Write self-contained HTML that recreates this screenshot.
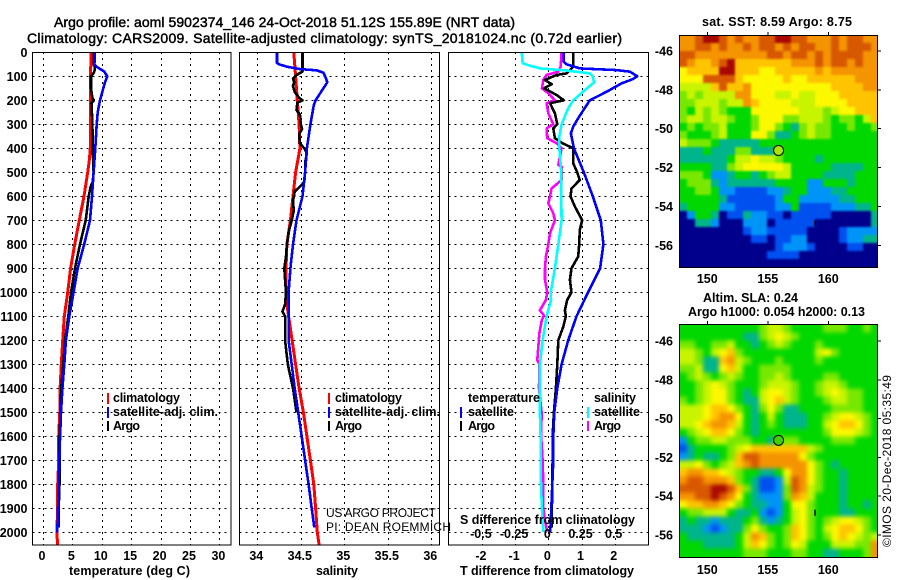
<!DOCTYPE html>
<html>
<head>
<meta charset="utf-8">
<style>
html,body{margin:0;padding:0;background:#fff;width:900px;height:580px;overflow:hidden}
svg{display:block}
text{font-family:"Liberation Sans",sans-serif;fill:#000}
.b{font-weight:bold;font-size:12.5px}
.t{font-size:14px;stroke:#000;stroke-width:.45px}
.r{font-size:12px}
</style>
</head>
<body>
<svg id="chart" xmlns="http://www.w3.org/2000/svg" width="900" height="580" viewBox="0 0 900 580">
<defs>
<clipPath id="clip-t"><rect x="33" y="52" width="198" height="493"/></clipPath>
<clipPath id="clip-s"><rect x="240" y="52" width="199" height="493"/></clipPath>
<clipPath id="clip-d"><rect x="449" y="52" width="199" height="493"/></clipPath>
<clipPath id="clip-m1"><rect x="679" y="35" width="198" height="232"/></clipPath>
<clipPath id="clip-m2"><rect x="679" y="324" width="198" height="233"/></clipPath>
<filter id="soft1" x="-5%" y="-5%" width="110%" height="110%" color-interpolation-filters="sRGB"><feGaussianBlur stdDeviation="1"/></filter>
<filter id="soft2" x="-5%" y="-5%" width="110%" height="110%" color-interpolation-filters="sRGB"><feGaussianBlur stdDeviation="2.2"/></filter>
</defs>
<text class="t" x="54" y="27" textLength="461" lengthAdjust="spacing">Argo profile: aoml 5902374_146 24-Oct-2018 51.12S 155.89E (NRT data)</text>
<text class="t" x="27" y="43" textLength="595" lengthAdjust="spacing">Climatology: CARS2009. Satellite-adjusted climatology: synTS_20181024.nc (0.72d earlier)</text>

<g clip-path="url(#clip-m1)"><g id="heat1" filter="url(#soft1)"></g></g>
<g clip-path="url(#clip-m2)"><g id="heat2" filter="url(#soft2)"></g></g>
<g id="grids"></g>
<g id="series"></g>
<g id="axes"></g>

<g>
<rect x="107" y="393" width="2" height="11" fill="#f00"/>
<text class="b" x="113" y="402" textLength="67">climatology</text>
<rect x="107" y="407" width="2" height="11" fill="#00f"/>
<text class="b" x="113" y="416" textLength="105">satellite-adj. clim.</text>
<rect x="107" y="421" width="2" height="10" fill="#000"/>
<text class="b" x="113" y="430" textLength="27">Argo</text>
</g>
<g>
<rect x="328" y="393" width="2" height="11" fill="#f00"/>
<text class="b" x="335" y="402" textLength="67">climatology</text>
<rect x="328" y="407" width="2" height="11" fill="#00f"/>
<text class="b" x="335" y="416" textLength="105">satellite-adj. clim.</text>
<rect x="328" y="421" width="2" height="10" fill="#000"/>
<text class="b" x="335" y="430" textLength="27">Argo</text>
</g>
<g>
<text class="b" x="468" y="402" textLength="72">temperature</text>
<rect x="460" y="407" width="2" height="11" fill="#00f"/>
<text class="b" x="468" y="416" textLength="46">satellite</text>
<rect x="460" y="421" width="2" height="10" fill="#000"/>
<text class="b" x="468" y="430" textLength="27">Argo</text>
<text class="b" x="594" y="402" textLength="42">salinity</text>
<rect x="587" y="407" width="2" height="11" fill="#0ff"/>
<text class="b" x="594" y="416" textLength="46">satellite</text>
<rect x="587" y="421" width="2" height="10" fill="#f0f"/>
<text class="b" x="594" y="430" textLength="27">Argo</text>
</g>

<text class="r" x="326" y="517" textLength="110">US ARGO PROJECT</text>
<text class="r" x="326" y="531" textLength="125">PI: DEAN ROEMMICH</text>
<text class="b" x="460" y="524" textLength="175">S difference from climatology</text>

<text class="b" x="69" y="575" textLength="121">temperature (deg C)</text>
<text class="b" x="316" y="575" textLength="42">salinity</text>
<text class="b" x="460" y="575" textLength="174">T difference from climatology</text>

<text class="b" x="702" y="26" textLength="150">sat. SST: 8.59 Argo: 8.75</text>
<text class="b" x="703" y="302" textLength="95">Altim. SLA: 0.24</text>
<text class="b" x="688" y="316" textLength="177">Argo h1000: 0.054 h2000: 0.13</text>
<text class="r" transform="translate(891,547) rotate(-90)" textLength="172">©IMOS 20-Dec-2018 05:35:49</text>
</svg>

<script>
// ---- Temperature panel data (depth in dbar, value in deg C)
const tempClimDepths = [0,100,300,400,450,500,600,700,800,900,1000,1100,1200,1300,1400,1500,1600,1700,1800,1900,2000,2053];
const tempClim = [8.16,8.1,8.1,8.05,7.88,7.6,6.97,6.18,5.39,4.7,4.2,3.63,3.35,3.12,2.9,2.85,2.67,2.67,2.5,2.45,2.4,2.45];
const tempSatDepths = [0,50,60,80,100,125,150,200,250,300,400,500,600,700,800,900,1000,1100,1200,1300,1400,1500,1600,1700,1800,1900,2000];
const tempSat = [8.84,8.75,9.1,10.4,10.94,10.54,10.26,9.7,9.3,9.13,8.9,8.6,8.33,8,7,5.9,5.2,4.48,3.9,3.63,3.3,3.06,2.9,2.78,2.67,2.55,2.44];
const tempArgoDepths = [0,50,60,75,85,100,150,190,200,210,300,400,500,540,560,600,700,800,900,1000,1100,1200,1300,1400,1500,1600,1800,1900,1980];
const tempArgo = [8.67,8.6,8.8,8.8,8.65,8.16,8.16,8.4,8.65,8.25,8.4,8.45,8.6,8.45,8.1,7.77,7.26,6.3,5.44,4.76,4.3,3.74,3.45,3.1,3,2.8,2.8,2.67,2.67];
// ---- Salinity panel data
const salClimDepths = [0,100,200,300,400,420,500,600,700,800,900,1000,1050,1100,1200,1300,1400,1500,1600,1700,1800,1900,2000,2053];
const salClim = [34.42,34.44,34.46,34.48,34.49,34.48,34.44,34.41,34.38,34.34,34.33,34.33,34.34,34.36,34.4,34.44,34.48,34.53,34.57,34.61,34.65,34.67,34.69,34.71];
const salSatDepths = [0,45,50,60,70,75,85,100,125,150,200,220,300,400,500,600,700,800,900,1000,1100,1200,1300,1400,1500,1600,1700,1800,1900,1980];
const salSat = [34.226,34.227,34.25,34.34,34.49,34.68,34.76,34.78,34.805,34.76,34.67,34.65,34.61,34.57,34.55,34.52,34.45,34.41,34.38,34.36,34.36,34.36,34.395,34.43,34.47,34.51,34.55,34.59,34.625,34.655];
const salArgoDepths = [0,80,95,110,125,140,165,190,200,210,240,260,300,320,340,380,400,420,460,500,540,560,580,620,660,700,750,800,850,900,950,1000,1050,1080,1100,1200,1300,1400,1500];
const salArgo = [34.52,34.52,34.45,34.41,34.425,34.41,34.43,34.48,34.52,34.46,34.45,34.49,34.5,34.515,34.48,34.49,34.54,34.57,34.55,34.55,34.54,34.49,34.43,34.41,34.42,34.395,34.36,34.34,34.33,34.31,34.32,34.33,34.32,34.29,34.32,34.32,34.35,34.41,34.45];
// ---- Difference panel data
const diffTSatDepths = [0,40,50,67,74,81,100,112,130,164,200,268,310,338,400,500,600,700,800,900,1000,1100,1200,1300,1400,1500,1600,1700,1800,1900,1998];
const diffTSat = [0.47,0.47,0.55,0.95,2.06,2.46,2.68,2.54,2.2,1.76,1.25,0.93,0.75,0.68,0.77,1.07,1.34,1.58,1.66,1.56,1.2,0.85,0.6,0.4,0.27,0.18,0.15,0.15,0.12,0.09,0.06];
const diffTArgoDepths = [0,60,74,88,94,115,133,150,178,200,212,254,300,317,358,379,400,462,500,532,567,600,643,700,740,800,851,900,948,1000,1032,1075,1100,1144,1200,1300,1400,1500,1600,1700,1980];
const diffTArgo = [0.75,0.75,0.65,0.55,0.25,-0.1,0.1,-0.13,0.25,0.47,0.05,0.2,0.27,0.15,0.2,0.43,0.75,0.75,0.87,0.95,0.7,0.67,0.8,1.02,0.95,0.93,0.9,0.7,0.65,0.7,0.57,0.5,0.53,0.45,0.3,0.27,0.23,0.17,0.13,0.13,0.1];
const diffSSatDepths = [0,46,56,67,76,88,100,126,157,200,233,300,351,400,500,600,700,800,900,1000,1032,1100,1200,1300,1400,1500,1600,1700,1800,1900,1998];
const diffSSat = [-0.2,-0.193,-0.138,-0.063,0.138,0.314,0.334,0.344,0.276,0.188,0.15,0.1,0.083,0.083,0.098,0.098,0.1,0.075,0.05,0.018,0.02,-0.013,-0.043,-0.063,-0.063,-0.063,-0.058,-0.058,-0.055,-0.048,-0.038];
const diffSArgoDepths = [0,60,81,94,115,150,171,200,212,254,300,317,358,379,400,469,476,532,567,600,629,671,700,754,800,851,900,948,1000,1032,1075,1096,1118,1172,1283,1300,1400,1505,1590,1700,1800,1900,1950,1998];
const diffSArgo = [0.1,0.093,0.075,-0.013,-0.038,-0.048,0,0.05,-0.013,0,0.038,-0.013,-0.008,0.063,0.1,0.075,0.1,0.1,0.025,0.013,0,0.038,0.05,0.013,0,-0.018,-0.025,-0.025,-0.008,-0.018,-0.063,-0.033,-0.05,-0.068,-0.083,-0.068,-0.07,-0.05,-0.055,-0.043,-0.038,-0.038,-0.025,-0.008];
// ---- Tick labels
const depthTicks = [0,100,200,300,400,500,600,700,800,900,1000,1100,1200,1300,1400,1500,1600,1700,1800,1900,2000];
const tempTicks = [0,5,10,15,20,25,30];
const salTicks = [34,34.5,35,35.5,36];
const diffTTicks = [-2,-1,0,1,2];
const diffSTicks = [-0.5,-0.25,0,0.25,0.5];
const lonTicks = [150,155,160];
const latTicks = [-46,-48,-50,-52,-54,-56];
// ---- Float position
const floatLon = 155.89;
const floatLat = -51.12;
// ---- Map colour levels
const levelColors = ['#00008c','#0050f0','#0094f8','#00b48c','#00d800','#78e800','#c8f400','#fcf800','#ffc400','#f49400','#d85800','#a80800'];
const sstRows = [
[9,9,10,11,11,10,9,10,9,9,10,10,11,11,10,10,9,9,9,10,9,10,10,9,9],
[9,9,10,10,9,10,9,9,10,9,10,10,9,10,9,10,10,9,9,10,9,10,10,10,9],
[10,10,9,9,9,9,9,9,9,9,9,10,10,9,10,10,9,10,9,10,10,10,10,9,9],
[10,9,8,8,9,10,11,8,8,8,8,8,8,8,9,9,9,10,9,10,10,9,10,9,9],
[7,8,8,8,8,11,11,8,8,8,7,7,8,8,8,8,8,9,8,9,9,9,9,9,9],
[7,7,7,10,10,10,10,8,7,7,7,7,7,8,7,7,8,8,8,8,8,8,9,9,9],
[6,6,6,6,8,10,8,8,9,7,7,7,7,7,7,7,7,7,7,8,8,8,8,9,9],
[5,6,5,6,6,6,6,9,9,7,7,7,6,6,7,6,6,7,7,7,8,8,8,8,8],
[5,5,6,6,6,5,6,6,9,8,7,7,7,7,6,6,6,7,7,7,7,8,8,8,8],
[5,4,6,5,6,5,4,4,4,7,7,7,7,7,7,6,6,6,5,6,7,7,8,8,8],
[5,6,6,5,6,6,5,4,4,5,7,7,7,5,5,6,6,6,5,4,5,5,4,6,8],
[4,5,4,5,5,6,4,4,4,5,7,7,5,4,3,5,6,5,5,4,4,5,4,4,5],
[5,4,4,4,5,6,4,4,4,7,7,5,3,3,4,5,6,5,5,4,4,4,4,4,4],
[6,5,5,5,4,3,3,3,3,3,4,4,4,4,4,4,4,4,4,4,4,4,4,4,4],
[3,3,3,4,3,3,3,5,5,3,3,3,5,4,4,4,4,4,4,4,4,4,4,4,4],
[3,3,3,3,3,3,4,6,6,7,6,6,5,4,4,4,4,3,4,4,4,4,4,4,4],
[4,4,4,4,3,3,5,6,7,7,7,7,7,6,4,4,4,4,4,3,3,3,3,4,4],
[5,5,5,4,2,2,3,4,4,3,4,5,6,6,4,4,4,4,3,3,3,3,4,4,4],
[4,5,5,5,3,2,3,3,3,3,3,3,4,4,4,4,2,2,4,4,4,3,4,4,4],
[4,4,5,5,4,2,2,1,1,1,1,2,2,3,4,4,2,2,2,3,3,4,4,4,4],
[4,4,4,4,4,3,1,1,1,1,1,1,2,4,4,2,2,2,2,2,3,3,4,4,4],
[3,4,4,4,4,2,2,1,1,1,1,1,2,2,4,1,1,1,1,2,2,2,3,3,4],
[0,2,4,4,3,0,1,1,3,2,2,1,1,0,1,1,1,1,1,0,0,0,0,0,3],
[0,0,3,3,2,0,0,0,2,2,2,0,1,1,1,1,1,0,0,0,0,0,0,0,3],
[0,0,0,0,0,0,0,0,1,2,2,1,1,1,1,1,0,0,0,0,1,2,2,2,2],
[0,0,0,0,0,0,0,0,0,1,1,0,1,1,2,2,0,0,0,0,1,2,2,3,3],
[0,0,0,0,0,0,0,0,0,0,0,0,1,2,2,2,1,0,0,0,0,1,1,0,0],
[0,0,0,0,0,0,0,0,0,0,0,1,1,1,1,0,0,0,0,0,0,0,0,0,0],
[0,0,0,0,0,0,0,0,0,0,0,0,0,0,0,0,0,0,0,0,0,0,0,0,0]
];
const slaRows = [
[4,4,4,4,4,4,4,4,4,4,5,6,6,5,4,4,4,4,5,5,5,4,4,5,4],
[4,4,4,4,4,4,4,4,3,3,5,6,7,6,5,4,4,4,4,4,4,4,4,4,4],
[5,5,4,4,5,5,6,4,4,3,4,5,6,5,4,4,4,5,4,4,4,4,4,4,4],
[6,6,5,4,6,7,8,5,4,4,4,4,4,4,4,4,4,6,7,5,4,4,4,4,4],
[6,6,5,3,3,8,9,6,5,4,4,4,5,4,4,4,4,5,4,4,4,4,4,4,4],
[5,5,6,3,3,7,8,6,4,4,5,5,5,5,4,4,4,4,4,4,4,4,4,4,4],
[4,5,6,5,4,5,6,5,4,4,5,5,6,5,4,4,4,4,5,5,4,4,4,4,4],
[4,4,5,6,7,6,5,4,4,4,5,6,6,6,5,4,4,5,6,6,5,4,4,4,4],
[4,4,5,6,7,7,5,4,3,4,6,7,7,6,5,4,4,5,6,7,6,5,5,4,4],
[5,4,5,6,7,7,5,4,3,3,6,7,8,6,5,4,4,4,5,6,6,5,5,4,4],
[6,6,6,7,8,8,7,5,4,3,5,7,5,3,3,4,4,4,4,5,5,5,5,4,4],
[6,6,6,7,8,9,9,7,4,3,4,6,4,3,3,3,4,4,5,6,7,7,6,5,4],
[6,6,7,8,9,9,8,6,4,3,4,5,4,3,3,3,4,4,6,7,8,8,7,5,4],
[4,5,6,7,8,8,7,5,4,3,4,4,4,4,4,4,4,4,5,7,7,7,6,5,4],
[2,4,5,5,6,6,5,5,5,4,4,3,5,5,5,4,4,4,4,5,5,5,4,4,4],
[1,3,4,4,4,4,5,6,7,8,8,8,8,8,8,8,6,5,4,4,4,4,4,4,4],
[2,3,4,3,3,4,5,8,10,10,9,9,9,9,9,7,5,4,4,4,4,4,4,4,4],
[6,6,7,5,4,5,6,8,9,10,9,9,9,9,9,9,7,5,4,3,4,4,4,4,4],
[8,9,9,8,8,7,6,5,4,4,3,3,4,7,9,9,7,5,4,4,3,4,4,4,4],
[9,10,10,9,9,9,8,5,4,3,1,1,2,6,10,9,7,5,4,4,3,4,4,4,4],
[10,10,10,10,11,11,10,8,5,3,1,1,2,5,10,9,6,5,4,4,3,4,4,4,4],
[9,9,10,10,11,10,9,7,4,3,2,2,2,5,9,8,6,4,4,4,3,4,4,4,4],
[7,8,8,9,9,8,7,5,4,3,3,2,2,4,7,7,5,4,4,4,3,4,4,3,4],
[4,5,5,6,6,6,4,3,3,4,2,1,2,4,6,7,5,4,4,4,3,3,4,4,4],
[3,4,3,3,2,3,3,3,4,5,3,2,3,4,6,7,5,4,5,6,7,7,6,5,4],
[3,3,3,2,1,2,3,3,5,7,5,4,4,5,8,7,5,4,6,7,8,8,7,5,4],
[4,3,3,3,3,3,3,4,6,9,8,5,4,5,8,7,5,4,5,7,8,7,6,5,6],
[4,4,4,3,3,3,3,4,6,8,7,5,4,5,7,6,4,4,4,6,6,6,5,5,9],
[4,4,4,4,4,4,4,4,5,5,5,4,4,4,5,5,4,4,3,3,4,4,4,5,9]
];

const SVGNS = 'http://www.w3.org/2000/svg';
function mk(tag, parent, attrs) {
  const el = document.createElementNS(SVGNS, tag);
  for (const k in attrs) el.setAttribute(k, attrs[k]);
  parent.appendChild(el);
  return el;
}
// axis functions
function depthY(d) { return 52.3 + 0.24 * d; }
function tempX(v) { return 43 + 5.88 * v; }
function salX(v) { return 257.3 + 87 * (v - 34); }
function diffTX(v) { return 548.3 + 33.2 * v; }
function diffSX(v) { return 548.3 + 132.8 * v; }
function lonX(lon) { return 707.3 + 12.1 * (lon - 150); }
function latY1(lat) { return 51 + 19.43 * (-46 - lat); }
function latY2(lat) { return 341 + 19.4 * (-46 - lat); }

const grids = document.getElementById('grids');
const axes = document.getElementById('axes');
const series = document.getElementById('series');

const panels = [
  {key:'temperature', left:32.5, right:231, x:tempX, ticks:tempTicks},
  {key:'salinity', left:239.5, right:439.5, x:salX, ticks:salTicks},
  {key:'difference', left:448.5, right:648.5, x:diffTX, ticks:diffTTicks}
];
const TOP = 52, BOTTOM = 545;

function line(parent, x1, y1, x2, y2, attrs) {
  return mk('line', parent, Object.assign({x1:x1, y1:y1, x2:x2, y2:y2, 'shape-rendering':'crispEdges', stroke:'#000'}, attrs || {}));
}
panels.forEach(function (p) {
  depthTicks.forEach(function (d) {
    const gl = line(grids, p.left, Math.round(depthY(d)) + .5, p.right, Math.round(depthY(d)) + .5, {'stroke-width':1, 'stroke-dasharray':'2 4'});
    
    
  });
  p.ticks.forEach(function (v) {
    const gl = line(grids, Math.round(p.x(v)) + .5, TOP, Math.round(p.x(v)) + .5, BOTTOM, {'stroke-width':1, 'stroke-dasharray':'2 4'});
    
    
    const tl = mk('text', axes, {x:p.x(v) - 1, y:560, 'text-anchor':'middle', 'class':'b'});
    tl.textContent = String(v);
    
    
  });
});
diffSTicks.forEach(function (v) {
  const tl = mk('text', axes, {x:diffSX(v) - 1, y:538, 'text-anchor':'middle', 'class':'b'});
  tl.textContent = v === 0 ? '0' : String(v);
  
  
});
depthTicks.forEach(function (d) {
  const tl = mk('text', axes, {x:27.5, y:depthY(d) + 4.5, 'text-anchor':'end', 'class':'b'});
  tl.textContent = String(d);
  
  
});

function drawSeries(name, clip, xf, depths, vals, color, width) {
  const pts = vals.map(function (v, i) { return xf(v).toFixed(1) + ',' + depthY(depths[i]).toFixed(1); }).join(' ');
  const pl = mk('polyline', series, {points:pts, fill:'none', stroke:color, 'stroke-width':width, 'clip-path':'url(#' + clip + ')', 'shape-rendering':'crispEdges', 'stroke-linejoin':'round'});
  
  
}
drawSeries('temperature-climatology-line', 'clip-t', tempX, tempClimDepths, tempClim, '#f00', 3);
drawSeries('temperature-argo-line', 'clip-t', tempX, tempArgoDepths, tempArgo, '#000', 2.6);
drawSeries('temperature-satellite-line', 'clip-t', tempX, tempSatDepths, tempSat, '#00f', 2.6);
drawSeries('salinity-climatology-line', 'clip-s', salX, salClimDepths, salClim, '#f00', 3);
drawSeries('salinity-argo-line', 'clip-s', salX, salArgoDepths, salArgo, '#000', 2.6);
drawSeries('salinity-satellite-line', 'clip-s', salX, salSatDepths, salSat, '#00f', 2.6);
drawSeries('difference-s-argo-line', 'clip-d', diffSX, diffSArgoDepths, diffSArgo, '#f0f', 2.6);
drawSeries('difference-t-argo-line', 'clip-d', diffTX, diffTArgoDepths, diffTArgo, '#000', 2.6);
drawSeries('difference-t-satellite-line', 'clip-d', diffTX, diffTSatDepths, diffTSat, '#00f', 2.6);
drawSeries('difference-s-satellite-line', 'clip-d', diffSX, diffSSatDepths, diffSSat, '#0ff', 2.6);

panels.forEach(function (p) {
  const fr = mk('rect', axes, {x:p.left, y:TOP + .5, width:p.right - p.left, height:BOTTOM - TOP - .5, fill:'none', stroke:'#000', 'stroke-width':1, 'shape-rendering':'crispEdges'});
  
  
});

function drawHeat(groupId, rows, top, cellName) {
  const g = document.getElementById(groupId);
  const PAD = 10;
  rows.forEach(function (row, r) {
    row.forEach(function (lev, c) {
      const px0 = 679 + c * 8 - (c === 0 ? PAD : 0);
      const px1 = 679 + (c + 1) * 8 + (c === row.length - 1 ? PAD : 0);
      const py0 = top + r * 8 - (r === 0 ? PAD : 0);
      const py1 = top + (r + 1) * 8 + (r === rows.length - 1 ? PAD : 0);
      const cell = mk('rect', g, {x:px0, y:py0, width:px1 - px0, height:py1 - py0, fill:levelColors[lev], 'shape-rendering':'crispEdges'});
      
      
    });
  });
}
drawHeat('heat1', sstRows, 35, 'sst-cell');
drawHeat('heat2', slaRows, 324.5, 'sla-cell');

function drawMapAxes(prefix, top, bottom, latY, labelY, dotFill) {
  const fr = mk('rect', axes, {x:679.5, y:top + .5, width:198, height:bottom - top, fill:'none', stroke:'#000', 'stroke-width':1, 'shape-rendering':'crispEdges'});
  
  
  lonTicks.forEach(function (lon) {
    const tk = line(axes, lonX(lon), top - 3, lonX(lon), top, {'stroke-width':1});
    
    
    const tl = mk('text', axes, {x:lonX(lon), y:labelY, 'text-anchor':'middle', 'class':'b'});
    tl.textContent = String(lon);
    
    
  });
  latTicks.forEach(function (lat) {
    const tk = line(axes, 877, latY(lat), 881, latY(lat), {'stroke-width':1});
    
    
    const tl = mk('text', axes, {x:673, y:latY(lat) + 4.5, 'text-anchor':'end', 'class':'b'});
    tl.textContent = String(lat);
    
    
  });
  const dot = mk('circle', axes, {cx:lonX(floatLon), cy:latY(floatLat), r:5, fill:dotFill, stroke:'#000', 'stroke-width':1});
  
  
  const coast = mk('rect', axes, {x:lonX(158.85), y:latY(-54.7), width:1.5, height:6, fill:'#000'});
  
  
}
drawMapAxes('sst', 35, 267, latY1, 283, '#a8e800');
drawMapAxes('sla', 324, 557, latY2, 574, '#40d000');
</script>
</body>
</html>
